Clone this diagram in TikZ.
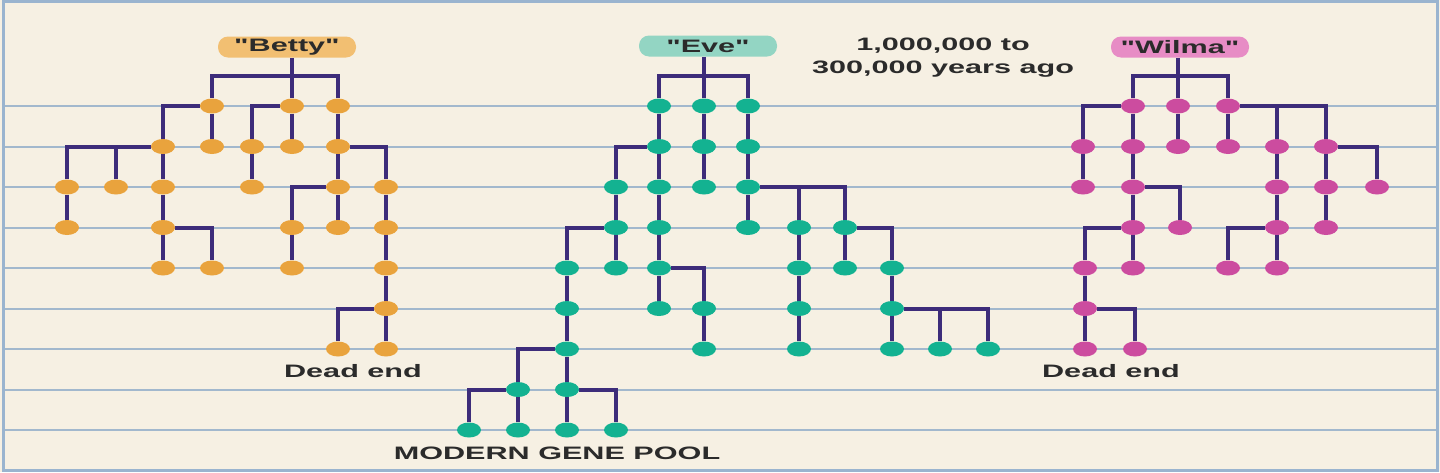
\documentclass[tikz,border=0pt]{standalone}
\usepackage{fontspec}
\setmainfont{Liberation Sans}[Ligatures=TeXOff]
\usetikzlibrary{shapes.geometric,backgrounds}

\definecolor{paper}{HTML}{F6F0E3}
\definecolor{gridblue}{HTML}{A2B8CD}
\definecolor{frameblue}{HTML}{9AB4CF}
\definecolor{lineage}{HTML}{3D2C7A}
\definecolor{bettydot}{HTML}{E9A33D}
\definecolor{evedot}{HTML}{13B291}
\definecolor{wilmadot}{HTML}{CC4C9F}
\definecolor{bettypill}{HTML}{F2BF72}
\definecolor{evepill}{HTML}{93D5C3}
\definecolor{wilmapill}{HTML}{E78CC5}
\definecolor{ink}{HTML}{2B2B2B}

\newcommand{\wide}[1]{\scalebox{1.7}[1]{#1}}

\begin{document}
\begin{tikzpicture}[x=1pt, y=-1pt,
    dot/.style={ellipse, minimum width=24pt, minimum height=15pt, inner sep=0pt},
    bdot/.style={dot, fill=bettydot},
    edot/.style={dot, fill=evedot},
    wdot/.style={dot, fill=wilmadot},
    pill/.style={rounded corners=10pt, minimum width=138pt, minimum height=21pt, inner sep=0pt,
                 text=ink, font=\fontsize{18}{23}\selectfont\bfseries},
    txt/.style={text=ink, inner sep=0pt, font=\fontsize{18}{23}\selectfont\bfseries},
    branch/.style={lineage, line width=4pt},
    rule/.style={gridblue, line width=2pt}]

\useasboundingbox (0,0) rectangle (1440,472);

\node[pill, fill=bettypill] (betty) at (287,47) {\wide{"Betty"}};
\node[pill, fill=evepill] (eve) at (708,46) {\wide{"Eve"}};
\node[pill, fill=wilmapill] (wilma) at (1180,47) {\wide{"Wilma"}};

\node[txt, align=center] (when) at (943,57.5) {\wide{1,000,000 to}\\\wide{300,000 years ago}};
\node[txt] (bdead) at (353,371) {\wide{Dead end}};
\node[txt] (wdead) at (1111,371) {\wide{Dead end}};
\node[txt] (pool) at (557,453) {\wide{MODERN GENE POOL}};

\coordinate (bj) at (292,76);
\coordinate (ej) at (704,76);
\coordinate (wj) at (1178,76);

% Betty
\node[bdot] (b1a) at (212,106) {};
\node[bdot] (b1b) at (292,106) {};
\node[bdot] (b1c) at (338,106) {};

\node[bdot] (b2a) at (163,146.5) {};
\node[bdot] (b2b) at (212,146.5) {};
\node[bdot] (b2c) at (252,146.5) {};
\node[bdot] (b2d) at (292,146.5) {};
\node[bdot] (b2e) at (338,146.5) {};

\node[bdot] (b3a) at (67,187) {};
\node[bdot] (b3b) at (116,187) {};
\node[bdot] (b3c) at (163,187) {};
\node[bdot] (b3d) at (252,187) {};
\node[bdot] (b3e) at (338,187) {};
\node[bdot] (b3f) at (386,187) {};

\node[bdot] (b4a) at (67,227.5) {};
\node[bdot] (b4b) at (163,227.5) {};
\node[bdot] (b4c) at (292,227.5) {};
\node[bdot] (b4d) at (338,227.5) {};
\node[bdot] (b4e) at (386,227.5) {};

\node[bdot] (b5a) at (163,268) {};
\node[bdot] (b5b) at (212,268) {};
\node[bdot] (b5c) at (292,268) {};
\node[bdot] (b5d) at (386,268) {};

\node[bdot] (b6a) at (386,308.5) {};

\node[bdot] (b7a) at (338,349) {};
\node[bdot] (b7b) at (386,349) {};

% Eve
\node[edot] (e1a) at (659,106) {};
\node[edot] (e1b) at (704,106) {};
\node[edot] (e1c) at (748,106) {};

\node[edot] (e2a) at (659,146.5) {};
\node[edot] (e2b) at (704,146.5) {};
\node[edot] (e2c) at (748,146.5) {};

\node[edot] (e3a) at (616,187) {};
\node[edot] (e3b) at (659,187) {};
\node[edot] (e3c) at (704,187) {};
\node[edot] (e3d) at (748,187) {};

\node[edot] (e4a) at (616,227.5) {};
\node[edot] (e4b) at (659,227.5) {};
\node[edot] (e4c) at (748,227.5) {};
\node[edot] (e4d) at (799,227.5) {};
\node[edot] (e4e) at (845,227.5) {};

\node[edot] (e5a) at (567,268) {};
\node[edot] (e5b) at (616,268) {};
\node[edot] (e5c) at (659,268) {};
\node[edot] (e5d) at (799,268) {};
\node[edot] (e5e) at (845,268) {};
\node[edot] (e5f) at (892,268) {};

\node[edot] (e6a) at (567,308.5) {};
\node[edot] (e6b) at (659,308.5) {};
\node[edot] (e6c) at (704,308.5) {};
\node[edot] (e6d) at (799,308.5) {};
\node[edot] (e6e) at (892,308.5) {};

\node[edot] (e7a) at (567,349) {};
\node[edot] (e7b) at (704,349) {};
\node[edot] (e7c) at (799,349) {};
\node[edot] (e7d) at (892,349) {};
\node[edot] (e7e) at (940,349) {};
\node[edot] (e7f) at (988,349) {};

\node[edot] (e8a) at (518,389.5) {};
\node[edot] (e8b) at (567,389.5) {};

\node[edot] (e9a) at (469,430) {};
\node[edot] (e9b) at (518,430) {};
\node[edot] (e9c) at (567,430) {};
\node[edot] (e9d) at (616,430) {};

% Wilma
\node[wdot] (w1a) at (1133,106) {};
\node[wdot] (w1b) at (1178,106) {};
\node[wdot] (w1c) at (1228,106) {};

\node[wdot] (w2a) at (1083,146.5) {};
\node[wdot] (w2b) at (1133,146.5) {};
\node[wdot] (w2c) at (1178,146.5) {};
\node[wdot] (w2d) at (1228,146.5) {};
\node[wdot] (w2e) at (1277,146.5) {};
\node[wdot] (w2f) at (1326,146.5) {};

\node[wdot] (w3a) at (1083,187) {};
\node[wdot] (w3b) at (1133,187) {};
\node[wdot] (w3c) at (1277,187) {};
\node[wdot] (w3d) at (1326,187) {};
\node[wdot] (w3e) at (1377,187) {};

\node[wdot] (w4a) at (1133,227.5) {};
\node[wdot] (w4b) at (1180,227.5) {};
\node[wdot] (w4c) at (1277,227.5) {};
\node[wdot] (w4d) at (1326,227.5) {};

\node[wdot] (w5a) at (1085,268) {};
\node[wdot] (w5b) at (1133,268) {};
\node[wdot] (w5c) at (1228,268) {};
\node[wdot] (w5d) at (1277,268) {};

\node[wdot] (w6a) at (1085,308.5) {};

\node[wdot] (w7a) at (1085,349) {};
\node[wdot] (w7b) at (1135,349) {};

\begin{scope}[on background layer]
\fill[paper] (0,0) rectangle (1440,472);

\draw[rule] (3,106) -- (1437,106);
\draw[rule] (3,146.5) -- (1437,146.5);
\draw[rule] (3,187) -- (1437,187);
\draw[rule] (3,227.5) -- (1437,227.5);
\draw[rule] (3,268) -- (1437,268);
\draw[rule] (3,308.5) -- (1437,308.5);
\draw[rule] (3,349) -- (1437,349);
\draw[rule] (3,389.5) -- (1437,389.5);
\draw[rule] (3,430) -- (1437,430);

\draw[frameblue, line width=3pt] (3,1.5) rectangle (1437,470.5);

% Betty
\draw[branch] (betty.south -| bj) -- (bj) -| (b1a);
\draw[branch] (bj) -| (b1c);
\draw[branch] (bj) -- (b1b);
\draw[branch] (b1a) -| (b2a);
\draw[branch] (b1a) -- (b2b);
\draw[branch] (b1b) -| (b2c);
\draw[branch] (b1b) -- (b2d);
\draw[branch] (b1c) -- (b2e);
\draw[branch] (b2a) -| (b3a);
\draw[branch] (b2a) -| (b3b);
\draw[branch] (b2a) -- (b3c);
\draw[branch] (b2c) -- (b3d);
\draw[branch] (b2e) -- (b3e);
\draw[branch] (b2e) -| (b3f);
\draw[branch] (b3a) -- (b4a);
\draw[branch] (b3c) -- (b4b);
\draw[branch] (b3e) -| (b4c);
\draw[branch] (b3e) -- (b4d);
\draw[branch] (b3f) -- (b4e);
\draw[branch] (b4b) -- (b5a);
\draw[branch] (b4b) -| (b5b);
\draw[branch] (b4c) -- (b5c);
\draw[branch] (b4e) -- (b5d);
\draw[branch] (b5d) -- (b6a);
\draw[branch] (b6a) -| (b7a);
\draw[branch] (b6a) -- (b7b);

% Eve
\draw[branch] (eve.south -| ej) -- (ej) -| (e1a);
\draw[branch] (ej) -| (e1c);
\draw[branch] (ej) -- (e1b);
\draw[branch] (e1a) -- (e2a);
\draw[branch] (e1b) -- (e2b);
\draw[branch] (e1c) -- (e2c);
\draw[branch] (e2a) -| (e3a);
\draw[branch] (e2a) -- (e3b);
\draw[branch] (e2b) -- (e3c);
\draw[branch] (e2c) -- (e3d);
\draw[branch] (e3a) -- (e4a);
\draw[branch] (e3b) -- (e4b);
\draw[branch] (e3d) -- (e4c);
\draw[branch] (e3d) -| (e4d);
\draw[branch] (e3d) -| (e4e);
\draw[branch] (e4a) -| (e5a);
\draw[branch] (e4a) -- (e5b);
\draw[branch] (e4b) -- (e5c);
\draw[branch] (e4d) -- (e5d);
\draw[branch] (e4e) -- (e5e);
\draw[branch] (e4e) -| (e5f);
\draw[branch] (e5a) -- (e6a);
\draw[branch] (e5c) -- (e6b);
\draw[branch] (e5c) -| (e6c);
\draw[branch] (e5d) -- (e6d);
\draw[branch] (e5f) -- (e6e);
\draw[branch] (e6a) -- (e7a);
\draw[branch] (e6c) -- (e7b);
\draw[branch] (e6d) -- (e7c);
\draw[branch] (e6e) -- (e7d);
\draw[branch] (e6e) -| (e7e);
\draw[branch] (e6e) -| (e7f);
\draw[branch] (e7a) -| (e8a);
\draw[branch] (e7a) -- (e8b);
\draw[branch] (e8a) -| (e9a);
\draw[branch] (e8a) -- (e9b);
\draw[branch] (e8b) -- (e9c);
\draw[branch] (e8b) -| (e9d);

% Wilma
\draw[branch] (wilma.south -| wj) -- (wj) -| (w1a);
\draw[branch] (wj) -| (w1c);
\draw[branch] (wj) -- (w1b);
\draw[branch] (w1a) -| (w2a);
\draw[branch] (w1a) -- (w2b);
\draw[branch] (w1b) -- (w2c);
\draw[branch] (w1c) -- (w2d);
\draw[branch] (w1c) -| (w2e);
\draw[branch] (w1c) -| (w2f);
\draw[branch] (w2a) -- (w3a);
\draw[branch] (w2b) -- (w3b);
\draw[branch] (w2e) -- (w3c);
\draw[branch] (w2f) -- (w3d);
\draw[branch] (w2f) -| (w3e);
\draw[branch] (w3b) -- (w4a);
\draw[branch] (w3b) -| (w4b);
\draw[branch] (w3c) -- (w4c);
\draw[branch] (w3d) -- (w4d);
\draw[branch] (w4a) -| (w5a);
\draw[branch] (w4a) -- (w5b);
\draw[branch] (w4c) -| (w5c);
\draw[branch] (w4c) -- (w5d);
\draw[branch] (w5a) -- (w6a);
\draw[branch] (w6a) -- (w7a);
\draw[branch] (w6a) -| (w7b);
\end{scope}

\end{tikzpicture}
\end{document}
